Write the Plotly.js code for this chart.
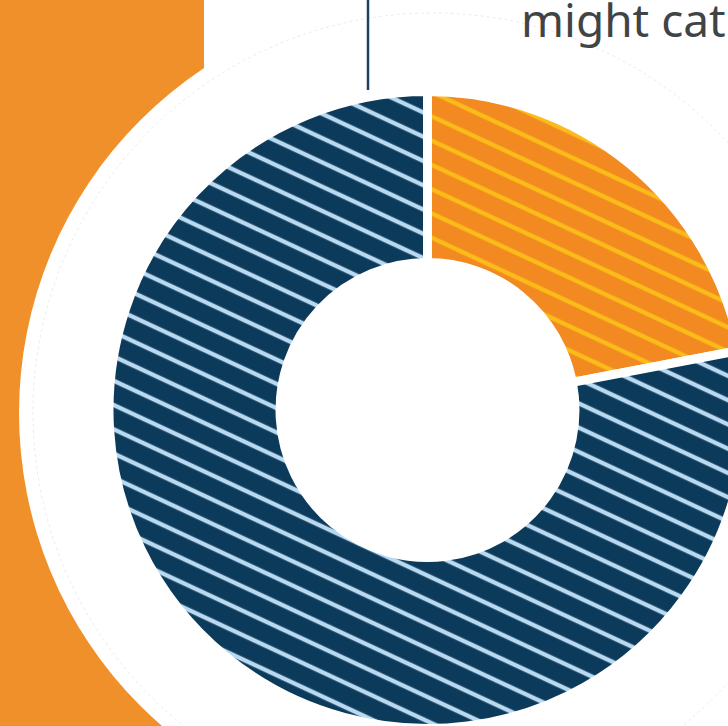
<!DOCTYPE html>
<html>
<head>
<meta charset="utf-8">
<script src="https://cdn.plot.ly/plotly-3.0.1.min.js"></script>
<style>
  html, body { margin: 0; padding: 0; overflow: hidden; background: #ffffff; width: 728px; height: 726px; }
  #chart { width: 800px; height: 760px; }
</style>
</head>
<body>
<div id="chart"></div>
<script>
// ---- data ----
const labels = ['Share A', 'Share B'];
const values = [22, 78];
const sliceColors = ['#f28a21', '#0c3a5b'];
const stripeColors = ['#fbbb18', '#b9d9f1'];
const headline = 'might cat';

// ---- geometry (pixels) ----
const W = 800, H = 760;
const cx = 427.5, cy = 410, r = 318.5;
const px = x => x / W;
const py = y => 1 - y / H;

const trace = {
  type: 'pie',
  labels: labels,
  values: values,
  sort: false,
  direction: 'clockwise',
  rotation: 0,
  hole: 0.463,
  textinfo: 'none',
  hoverinfo: 'none',
  showlegend: false,
  domain: { x: [px(cx - r), px(cx + r)], y: [py(cy + r), py(cy - r)] },
  marker: {
    colors: sliceColors,
    line: { color: '#ffffff', width: 9 },
    pattern: {
      shape: '-',
      fgcolor: stripeColors,
      bgcolor: sliceColors,
      size: 22,
      solidity: 0.2,
      fillmode: 'replace'
    }
  }
};

const bgR = 414, bgcx = 433, bgcy = 413;
const ringR = 400;

const layout = {
  width: W, height: H,
  margin: { l: 0, r: 0, t: 0, b: 0 },
  paper_bgcolor: '#ffffff',
  showlegend: false,
  shapes: [
    { type: 'rect', xref: 'paper', yref: 'paper', layer: 'below',
      x0: 0, x1: px(204), y0: 0, y1: 1, fillcolor: '#f0902a', line: { width: 0 } },
    { type: 'circle', xref: 'paper', yref: 'paper', layer: 'below',
      x0: px(bgcx - bgR), x1: px(bgcx + bgR), y0: py(bgcy + bgR), y1: py(bgcy - bgR),
      fillcolor: '#ffffff', line: { width: 0 } },
    { type: 'circle', xref: 'paper', yref: 'paper', layer: 'below',
      x0: px(bgcx - ringR), x1: px(bgcx + ringR), y0: py(bgcy + ringR), y1: py(bgcy - ringR),
      fillcolor: 'rgba(0,0,0,0)', line: { color: 'rgba(190,190,190,0.3)', width: 1, dash: 'dot' } },
    { type: 'line', xref: 'paper', yref: 'paper',
      x0: px(368), x1: px(368), y0: py(0), y1: py(90),
      line: { color: '#1d4262', width: 2.5 } }
  ],
  annotations: [
    { text: headline, xref: 'paper', yref: 'paper', x: px(519), y: py(19),
      xanchor: 'left', yanchor: 'middle', showarrow: false,
      font: { family: 'Noto Sans, Open Sans, sans-serif', size: 46, color: '#414444' } }
  ]
};

Plotly.newPlot('chart', [trace], layout, { displayModeBar: false, staticPlot: true }).then(function () {
  document.querySelectorAll('#chart pattern').forEach(function (p) {
    p.setAttribute('patternTransform', 'rotate(25)');
  });
});
</script>
</body>
</html>
